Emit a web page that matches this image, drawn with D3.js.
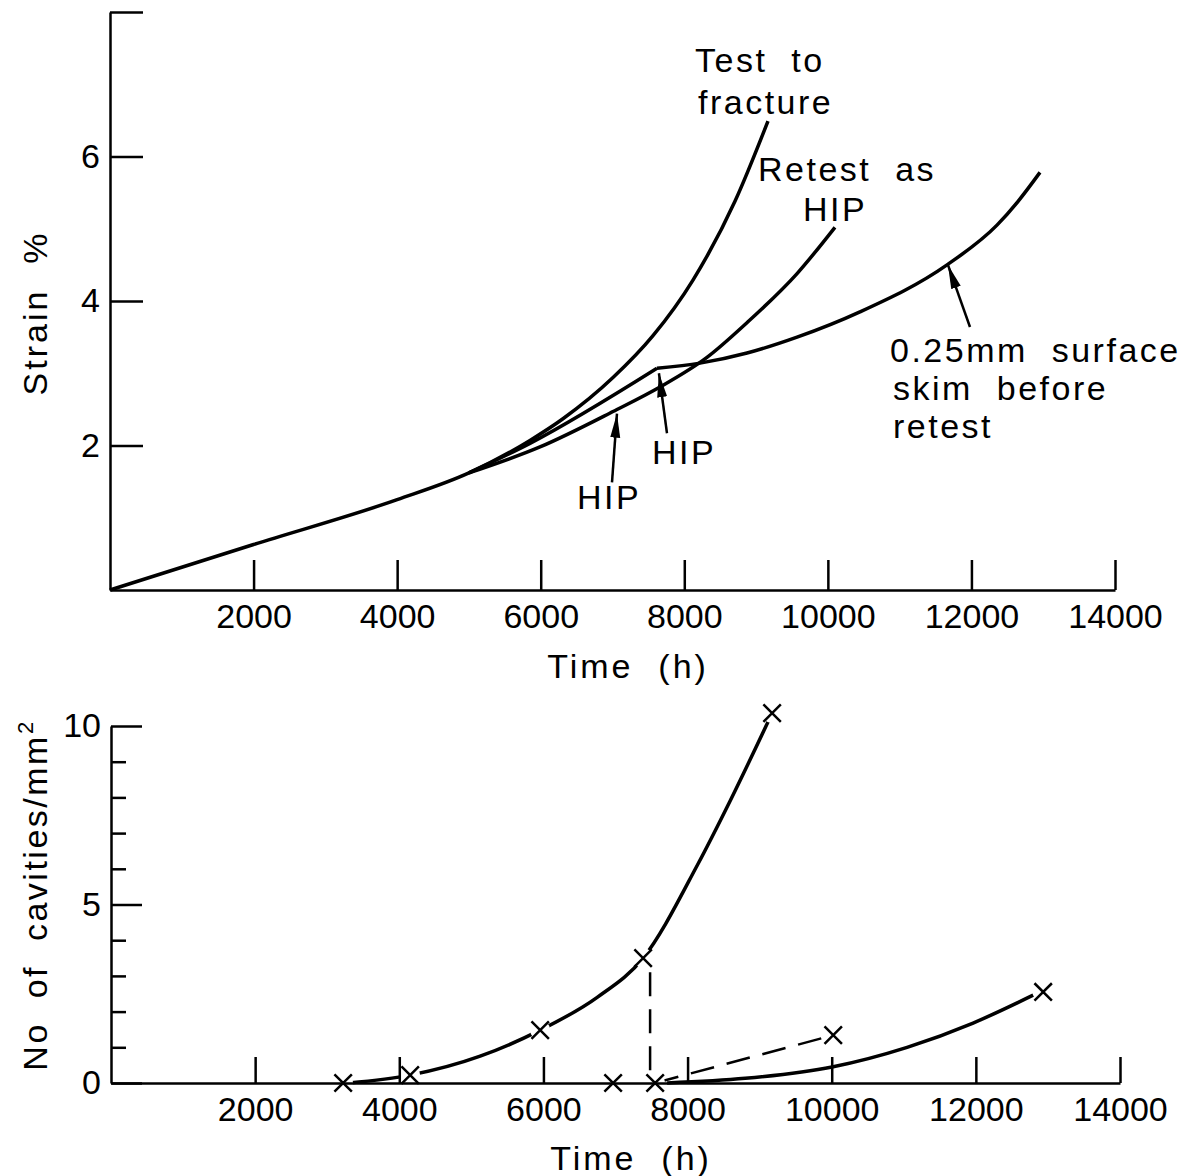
<!DOCTYPE html>
<html>
<head>
<meta charset="utf-8">
<script src="https://cdn.jsdelivr.net/npm/d3@7"></script>
<style>
  html, body { margin: 0; padding: 0; background: #fff; }
  svg { display: block; }
  text { font-family: "Liberation Sans", Arial, sans-serif; fill: #000; white-space: pre; }
</style>
</head>
<body>
<svg id="chart"></svg>
<script>
// Top panel: strain (%) vs time (h)
const testToFracture = [[0, 0], [2000, 0.63], [4000, 1.25], [5000, 1.62], [5850, 2.07], [6310, 2.37], [7007, 2.94], [7564, 3.52], [8121, 4.29], [8706, 5.38], [9166, 6.49]];
const retestAsHip = [[5000, 1.62], [5990, 1.98], [7007, 2.47], [7661, 2.81], [8316, 3.22], [8873, 3.70], [9571, 4.38], [10099, 5.02]];
const skimBeforeHip = [[5000, 1.62], [5850, 2.03], [7620, 3.07]];
const skimAfterHip = [[7620, 3.07], [8219, 3.14], [8874, 3.28], [9571, 3.50], [10447, 3.85], [11660, 4.50], [12356, 5.05], [12650, 5.38], [12955, 5.78]];

// Bottom panel: cavities per mm2 vs time (h)
const asTestedCurve = [[3300, 0], [4151, 0.22], [5122, 0.75], [5955, 1.48], [6746, 2.40], [7383, 3.50], [8135, 6.10], [8590, 7.90], [9173, 10.36]];
const asTestedPoints = [[3221, 0], [4151, 0.22], [5955, 1.48], [7383, 3.50], [9173, 10.36]];
const hipDrop = [[7480, 3.1], [7480, 0.15], [7550, 0]];
const hipRetestDashed = [[7550, 0], [10021, 1.34]];
const hipPoints = [[6967, 0], [7550, 0], [10021, 1.34]];
const skimCurve = [[7716, 0], [8800, 0.13], [10005, 0.45], [11046, 1.00], [11962, 1.68], [12795, 2.46]];
const skimPoints = [[12934, 2.55]];

// Ticks
const timeTicks = [2000, 4000, 6000, 8000, 10000, 12000, 14000];
const strainTicks = [2, 4, 6, 8];
const strainLabels = [2, 4, 6];
const cavityTicks = [0, 1, 2, 3, 4, 5, 6, 7, 8, 9, 10];
const cavityLabels = [0, 5, 10];

const width = 1181, height = 1176;
const fontSize = 34;

const svg = d3.select('#chart')
    .attr('width', width)
    .attr('height', height)
    .attr('viewBox', [0, 0, width, height]);

const x1 = d3.scaleLinear([0, 14000], [110, 1115]);
const y1 = d3.scaleLinear([0, 8], [590, 12]);
const x2 = d3.scaleLinear([0, 14000], [111, 1120]);
const y2 = d3.scaleLinear([0, 10], [1083, 726]);

const line1 = d3.line().x(d => x1(d[0])).y(d => y1(d[1])).curve(d3.curveMonotoneX);
const line2 = d3.line().x(d => x2(d[0])).y(d => y2(d[1])).curve(d3.curveMonotoneX);
const straight2 = d3.line().x(d => x2(d[0])).y(d => y2(d[1]));

const styleAxis = g => {
    g.attr('font-size', fontSize).attr('font-family', null);
    g.select('.domain').attr('stroke', '#000').attr('stroke-width', 2.5);
    g.selectAll('.tick line').attr('stroke', '#000').attr('stroke-width', 2.5);
    g.selectAll('.tick text').attr('fill', '#000');
};

// arrow head
svg.append('defs').append('marker')
    .attr('id', 'head')
    .attr('viewBox', '0 -6 24 12')
    .attr('refX', 24).attr('refY', 0)
    .attr('markerUnits', 'userSpaceOnUse')
    .attr('markerWidth', 24).attr('markerHeight', 12)
    .attr('orient', 'auto')
    .append('path').attr('d', 'M0,-5L24,0L0,5Z').attr('fill', '#000');

// ---------- top panel ----------
const topPanel = svg.append('g');

topPanel.selectAll('path.strain')
    .data([testToFracture, retestAsHip, skimBeforeHip, skimAfterHip])
    .join('path')
    .attr('class', 'strain')
    .attr('d', line1)
    .attr('fill', 'none')
    .attr('stroke', '#000')
    .attr('stroke-width', 3.5)
    .attr('stroke-linejoin', 'round');

const arrows = [
    { from: [6993, 1.49], to: [7062, 2.44] },
    { from: [7759, 2.17], to: [7647, 3.0] },
    { from: [11980, 3.64], to: [11673, 4.5] }
];
topPanel.selectAll('line.arrow')
    .data(arrows)
    .join('line')
    .attr('class', 'arrow')
    .attr('x1', d => x1(d.from[0])).attr('y1', d => y1(d.from[1]))
    .attr('x2', d => x1(d.to[0])).attr('y2', d => y1(d.to[1]))
    .attr('stroke', '#000').attr('stroke-width', 2.5)
    .attr('marker-end', 'url(#head)');

topPanel.append('g')
    .attr('transform', `translate(0,${y1(0)})`)
    .call(d3.axisBottom(x1).tickValues(timeTicks).tickSize(-30).tickSizeOuter(0).tickPadding(14).tickFormat(d3.format('d')))
    .call(styleAxis);

topPanel.append('g')
    .attr('transform', `translate(${x1(0)},0)`)
    .call(d3.axisLeft(y1).tickValues(strainTicks).tickSize(-33).tickSizeOuter(0).tickPadding(10)
        .tickFormat(d => strainLabels.includes(d) ? d : ''))
    .call(styleAxis);

const topLabels = [
    { t: 'Test  to', x: 695, y: 72 },
    { t: 'fracture', x: 698, y: 114 },
    { t: 'Retest  as', x: 758, y: 181 },
    { t: 'HIP', x: 803, y: 221 },
    { t: '0.25mm  surface', x: 890, y: 362 },
    { t: 'skim  before', x: 893, y: 400 },
    { t: 'retest', x: 893, y: 438 },
    { t: 'HIP', x: 652, y: 464 },
    { t: 'HIP', x: 577, y: 509 }
];
topPanel.selectAll('text.note')
    .data(topLabels)
    .join('text')
    .attr('class', 'note')
    .attr('x', d => d.x).attr('y', d => d.y)
    .attr('font-size', fontSize)
    .attr('letter-spacing', 2.5)
    .text(d => d.t);

topPanel.append('text')
    .attr('transform', 'translate(628,678)')
    .attr('text-anchor', 'middle')
    .attr('font-size', fontSize)
    .attr('letter-spacing', 3)
    .text('Time  (h)');

topPanel.append('text')
    .attr('transform', 'translate(47,313) rotate(-90)')
    .attr('text-anchor', 'middle')
    .attr('font-size', fontSize)
    .attr('letter-spacing', 3)
    .text('Strain  %');

// ---------- bottom panel ----------
const botPanel = svg.append('g');

botPanel.selectAll('path.solid')
    .data([asTestedCurve, skimCurve])
    .join('path')
    .attr('class', 'solid')
    .attr('d', line2)
    .attr('fill', 'none').attr('stroke', '#000').attr('stroke-width', 3.5);

botPanel.selectAll('path.dash')
    .data([hipDrop, hipRetestDashed])
    .join('path')
    .attr('class', 'dash')
    .attr('d', straight2)
    .attr('fill', 'none').attr('stroke', '#000').attr('stroke-width', 2.5)
    .attr('stroke-dasharray', '24,13');

const allPoints = [...asTestedPoints, ...hipPoints, ...skimPoints];

// white gaps where the lines meet the crosses
botPanel.selectAll('circle.halo')
    .data(allPoints)
    .join('circle')
    .attr('class', 'halo')
    .attr('cx', d => x2(d[0])).attr('cy', d => y2(d[1]))
    .attr('r', 10).attr('fill', '#fff');

botPanel.append('g')
    .attr('transform', `translate(0,${y2(0)})`)
    .call(d3.axisBottom(x2).tickValues(timeTicks).tickSize(-26).tickSizeOuter(0).tickPadding(14).tickFormat(d3.format('d')))
    .call(styleAxis);

botPanel.append('g')
    .attr('transform', `translate(${x2(0)},0)`)
    .call(d3.axisLeft(y2).tickValues(cavityTicks).tickSize(-15).tickSizeOuter(0).tickPadding(10)
        .tickFormat(d => cavityLabels.includes(d) ? d : ''))
    .call(styleAxis)
    .call(g => g.selectAll('.tick').filter(d => cavityLabels.includes(d)).select('line').attr('x2', 31));

const cross = d3.symbol(d3.symbolX, 200);
botPanel.selectAll('path.pt')
    .data(allPoints)
    .join('path')
    .attr('class', 'pt')
    .attr('transform', d => `translate(${x2(d[0])},${y2(d[1])})`)
    .attr('d', cross)
    .attr('fill', 'none').attr('stroke', '#000').attr('stroke-width', 2.5);

botPanel.append('text')
    .attr('transform', 'translate(631,1170)')
    .attr('text-anchor', 'middle')
    .attr('font-size', fontSize)
    .attr('letter-spacing', 3)
    .text('Time  (h)');

const yl = botPanel.append('text')
    .attr('transform', 'translate(47,895) rotate(-90)')
    .attr('text-anchor', 'middle')
    .attr('font-size', fontSize)
    .attr('letter-spacing', 2.5);
yl.append('tspan').text('No  of  cavities/mm');
yl.append('tspan').attr('font-size', 22).attr('dy', -14).text('2');
</script>
</body>
</html>
